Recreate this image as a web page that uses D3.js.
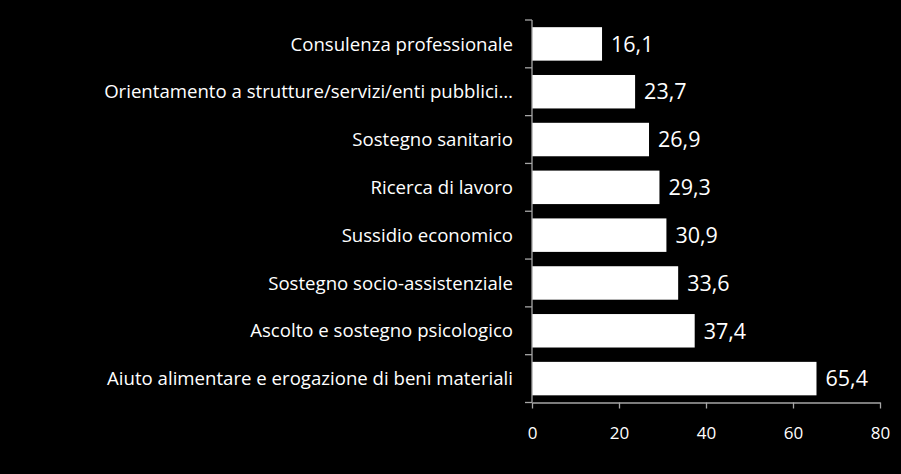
<!DOCTYPE html>
<html><head><meta charset="utf-8">
<script src="https://cdn.jsdelivr.net/npm/d3@7"></script>
<style>html,body{margin:0;padding:0;background:#000;}svg{display:block;}</style>
</head><body>
<svg id="c" width="901" height="474"></svg>
<script>
const categories = [
  "Consulenza professionale",
  "Orientamento a strutture/servizi/enti pubblici…",
  "Sostegno sanitario",
  "Ricerca di lavoro",
  "Sussidio economico",
  "Sostegno socio-assistenziale",
  "Ascolto e sostegno psicologico",
  "Aiuto alimentare e erogazione di beni materiali"
];
const values = [16.1, 23.7, 26.9, 29.3, 30.9, 33.6, 37.4, 65.4];
const xTicks = [0, 20, 40, 60, 80];

const svg = d3.select("#c");
const font = "'Open Sans', sans-serif";
const x = d3.scaleLinear().domain([0, 80]).range([532, 880]);
const y = d3.scaleBand().domain(categories).range([20, 402.5]).paddingInner(0.3).paddingOuter(0.15);
const band = d3.scaleBand().domain(categories).range([20, 402.5]);

svg.append("rect").attr("width", 901).attr("height", 474).attr("fill", "#000");

// fit a font size so a sample string has the target width
function fitSize(sample, target, base) {
  const t = svg.append("text").attr("font-family", font).attr("font-size", base).text(sample);
  const w = t.node().getComputedTextLength();
  t.remove();
  return base * target / w;
}
const catSize = fitSize(categories[7], 406, 17);

// bars
svg.selectAll("rect.bar").data(values).join("rect")
  .attr("class", "bar")
  .attr("x", x(0))
  .attr("y", (d, i) => y(categories[i]))
  .attr("width", d => x(d) - x(0))
  .attr("height", y.bandwidth())
  .attr("fill", "#fff");

// value labels
svg.selectAll("text.val").data(values).join("text")
  .attr("class", "val")
  .attr("x", d => x(d) + 9)
  .attr("y", (d, i) => y(categories[i]) + y.bandwidth() / 2)
  .attr("dy", "0.36em")
  .attr("fill", "#fff")
  .attr("font-family", font)
  .attr("font-size", 21.5)
  .text(d => d.toFixed(1).replace(".", ","));

// category labels
svg.selectAll("text.cat").data(categories).join("text")
  .attr("class", "cat")
  .attr("x", 513)
  .attr("y", d => y(d) + y.bandwidth() / 2)
  .attr("dy", "0.36em")
  .attr("text-anchor", "end")
  .attr("fill", "#fff")
  .attr("font-family", font)
  .attr("font-size", catSize)
  .text(d => d);

// y axis line and ticks at band boundaries
const axisColor = "#a6a6a6";
const yb = svg.append("g");
yb.append("line").attr("x1", 532).attr("x2", 532).attr("y1", 20).attr("y2", 402.5)
  .attr("stroke", axisColor).attr("stroke-width", 1.3);
const bounds = categories.map(c => band(c)).concat([402.5]);
yb.selectAll("line.t").data(bounds).join("line").attr("class", "t")
  .attr("x1", 525).attr("x2", 532).attr("y1", d => d).attr("y2", d => d)
  .attr("stroke", axisColor).attr("stroke-width", 1.3);

// x axis
const xa = svg.append("g").attr("transform", "translate(0,402.5)")
  .call(d3.axisBottom(x).tickValues(xTicks).tickSize(6).tickPadding(18).tickSizeOuter(0));
xa.select(".domain").attr("stroke", axisColor).attr("stroke-width", 1.3);
xa.selectAll(".tick line").attr("stroke", axisColor).attr("stroke-width", 1.3);
xa.selectAll(".tick text").attr("fill", "#fff").attr("font-family", font).attr("font-size", 17);
</script>
</body></html>
